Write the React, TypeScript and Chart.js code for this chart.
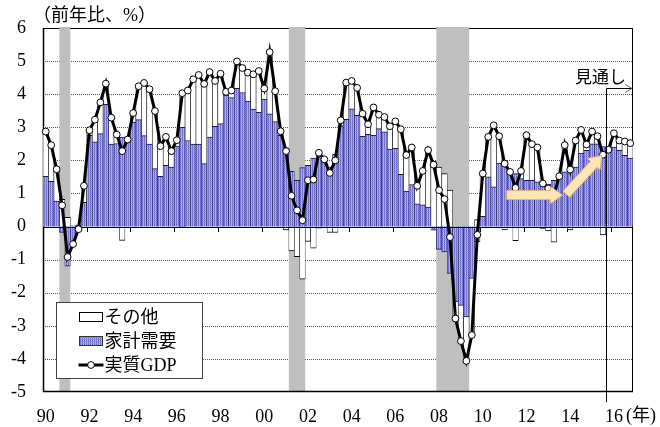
import React, { useEffect, useRef } from 'react';
import { Chart, registerables } from 'chart.js';

Chart.register(...registerables);

// ---- data ----
const firstYear = 1990;
const lastYear = 2016;
const categories: string[] = [];
for (let y = firstYear; y <= lastYear; y++) {
  for (let q = 1; q <= 4; q++) categories.push(`${y}Q${q}`);
}

const xTickLabels = ['90', '92', '94', '96', '98', '00', '02', '04', '06', '08', '10', '12', '14', '16'];
const yTickLabels = ['-5', '-4', '-3', '-2', '-1', '0', '1', '2', '3', '4', '5', '6'];

// 家計需要 (household demand contribution)
const household = [
  1.52, 1.37, 0.77, -0.18, -1.20, -0.55, 0.05, 0.73,
  2.76, 2.56, 2.81, 3.69, 2.49, 2.51, 2.70, 2.63,
  3.16, 3.23, 2.75, 2.49, 1.75, 1.52, 1.85, 1.80,
  2.43, 3.00, 2.60, 2.49, 2.49, 1.90, 2.70, 3.03,
  3.11, 3.97, 3.90, 4.18, 4.05, 3.79, 3.55, 3.45,
  3.85, 3.41, 3.17, 2.76, 2.38, 1.67, 1.40, 1.78,
  1.85, 2.07, 2.28, 2.03, 1.80, 2.18, 3.05, 3.24,
  3.56, 3.36, 2.73, 2.79, 2.76, 2.96, 2.86, 2.34,
  2.36, 1.58, 1.07, 1.27, 0.69, 0.66, 0.59, -0.11,
  -0.69, -0.77, -1.42, -2.28, -2.38, -2.73, -1.57, -0.46,
  0.31, 1.50, 1.20, 1.92, 2.00, 1.65, 1.60, 1.45,
  1.40, 1.40, 1.35, 1.36, 1.28, 1.40, 1.52, 1.65,
  1.82, 1.80, 2.22, 2.30, 2.50, 2.50, 2.42, 2.32,
  2.40, 2.30, 2.15, 2.07,
];

// その他 (other contribution)
const other = [
  1.35, 1.09, 0.96, 0.82, 0.28, 0.02, -0.13, 0.50,
  0.15, 0.67, 0.94, 0.63, 0.80, 0.27, -0.42, 0.00,
  0.27, 1.01, 1.59, 1.66, 1.74, 0.91, 0.86, 0.48,
  0.18, 1.03, 1.51, 1.96, 2.09, 2.41, 1.97, 1.37,
  1.51, 0.10, 0.21, 0.81, 0.74, 0.86, 1.05, 1.25,
  0.32, 1.86, 0.92, 0.12, -0.10, -0.74, -0.91, -1.59,
  -0.45, -0.65, -0.05, 0.00, -0.18, -0.18, 0.16, 1.11,
  0.84, 0.83, 0.68, 0.30, 0.84, 0.42, 0.45, 0.69,
  0.82, 1.36, 1.09, 1.12, 0.54, 1.02, 1.72, 1.98,
  1.80, 1.60, 1.10, -0.50, -1.08, -1.33, -1.71, 0.21,
  1.29, 1.21, 1.86, 0.81, -0.10, 0.00, -0.43, 0.23,
  1.36, 1.09, 1.04, -0.06, -0.13, -0.47, 0.00, 0.81,
  -0.10, 0.80, 0.70, 0.18, 0.37, 0.23, -0.25, 0.00,
  0.42, 0.30, 0.42, 0.45,
];

// 実質GDP (real GDP, y/y %)
const realGdp = [
  2.87, 2.46, 1.73, 0.64, -0.92, -0.53, -0.08, 1.23,
  2.91, 3.23, 3.75, 4.32, 3.29, 2.78, 2.28, 2.63,
  3.43, 4.24, 4.34, 4.15, 3.49, 2.43, 2.71, 2.28,
  2.61, 4.03, 4.11, 4.45, 4.58, 4.31, 4.67, 4.40,
  4.62, 4.07, 4.11, 4.99, 4.79, 4.65, 4.60, 4.70,
  4.17, 5.27, 4.09, 2.88, 2.28, 0.93, 0.49, 0.19,
  1.40, 1.42, 2.23, 2.03, 1.62, 2.00, 3.21, 4.35,
  4.40, 4.19, 3.41, 3.09, 3.60, 3.38, 3.31, 3.03,
  3.18, 2.94, 2.16, 2.39, 1.23, 1.68, 2.31, 1.87,
  1.10, 0.83, -0.32, -2.78, -3.46, -4.06, -3.28, -0.25,
  1.60, 2.71, 3.06, 2.73, 1.90, 1.65, 1.17, 1.68,
  2.76, 2.49, 2.39, 1.30, 1.15, 0.93, 1.52, 2.46,
  1.72, 2.60, 2.92, 2.48, 2.87, 2.73, 2.17, 2.32,
  2.82, 2.60, 2.57, 2.52,
];

// recession periods (shaded)
const recessions: [string, string][] = [
  ['1990Q4', '1991Q1'],
  ['2001Q2', '2001Q4'],
  ['2008Q1', '2009Q2'],
];
const forecastStart = '2015Q4';

// trend arrows: [categoryIndex, value]
const trendArrows = [
  { from: [84.4, 0.95], to: [94.6, 0.95] },
  { from: [95.3, 0.98], to: [101.8, 2.15] },
];

const titleText = '（前年比、%）';
const unitText = '(年)';
const forecastText = '見通し';
const legendLabels = ['その他', '家計需要', '実質GDP'];

const SERIF = '"Liberation Serif", "Noto Sans CJK JP", serif';
const CJK = '"Noto Sans CJK JP", sans-serif';

function makePattern(): CanvasPattern | string {
  const c = document.createElement('canvas');
  c.width = 2;
  c.height = 2;
  const g = c.getContext('2d');
  if (!g) return '#8c8cd8';
  g.fillStyle = '#6868c4'; g.fillRect(0, 0, 1, 1);
  g.fillStyle = '#8282d2'; g.fillRect(0, 1, 1, 1);
  g.fillStyle = '#b6b6ea'; g.fillRect(1, 0, 1, 1);
  g.fillStyle = '#a0a0e0'; g.fillRect(1, 1, 1, 1);
  return g.createPattern(c, 'repeat') || '#8c8cd8';
}

function blockArrow(ctx: CanvasRenderingContext2D, x0: number, y0: number, x1: number, y1: number,
  shaftHalf: number, headHalf: number, headLen: number) {
  const dx = x1 - x0, dy = y1 - y0;
  const len = Math.hypot(dx, dy);
  const ux = dx / len, uy = dy / len;
  const nx = -uy, ny = ux;
  const bx = x1 - ux * headLen, by = y1 - uy * headLen;
  ctx.beginPath();
  ctx.moveTo(x0 + nx * shaftHalf, y0 + ny * shaftHalf);
  ctx.lineTo(bx + nx * shaftHalf, by + ny * shaftHalf);
  ctx.lineTo(bx + nx * headHalf, by + ny * headHalf);
  ctx.lineTo(x1, y1);
  ctx.lineTo(bx - nx * headHalf, by - ny * headHalf);
  ctx.lineTo(bx - nx * shaftHalf, by - ny * shaftHalf);
  ctx.lineTo(x0 - nx * shaftHalf, y0 - ny * shaftHalf);
  ctx.closePath();
  ctx.fill();
  ctx.stroke();
}

export default function App() {
  const ref = useRef<HTMLCanvasElement | null>(null);

  useEffect(() => {
    if (!ref.current) return;
    const pattern = makePattern();

    const decor = {
      id: 'decor',
      beforeDatasetsDraw(chart: any) {
        const { ctx, chartArea: a, scales } = chart;
        const x = scales.x, y = scales.y;
        const half = (x.getPixelForValue(1) - x.getPixelForValue(0)) / 2;
        ctx.save();
        // dotted grid
        ctx.strokeStyle = '#5a5a5a';
        ctx.lineWidth = 1;
        ctx.setLineDash([1, 1]);
        for (let v = -4; v <= 5; v++) {
          if (v === 0) continue;
          const py = Math.round(y.getPixelForValue(v)) + 0.5;
          ctx.beginPath();
          ctx.moveTo(a.left, py);
          ctx.lineTo(a.right, py);
          ctx.stroke();
        }
        ctx.setLineDash([]);
        // top and right frame
        ctx.strokeStyle = '#000';
        ctx.beginPath();
        ctx.moveTo(a.left, Math.round(a.top) + 0.5);
        ctx.lineTo(a.right, Math.round(a.top) + 0.5);
        ctx.moveTo(Math.round(a.right) - 0.5, a.top);
        ctx.lineTo(Math.round(a.right) - 0.5, a.bottom);
        ctx.stroke();
        // recession bands
        ctx.fillStyle = '#bfbfbf';
        for (const [s, e] of recessions) {
          const i0 = categories.indexOf(s);
          const i1 = categories.indexOf(e);
          const x0 = x.getPixelForValue(i0) - half;
          const x1 = x.getPixelForValue(i1) + half;
          ctx.fillRect(x0, a.top - 1, x1 - x0, a.bottom - a.top + 1);
        }
        // bottom and left axis
        ctx.strokeStyle = '#000';
        ctx.lineWidth = 1.5;
        ctx.beginPath();
        ctx.moveTo(a.left, a.bottom - 0.5);
        ctx.lineTo(a.right, a.bottom - 0.5);
        ctx.stroke();
        ctx.beginPath();
        ctx.moveTo(a.left + 0.5, a.top);
        ctx.lineTo(a.left + 0.5, a.bottom);
        ctx.stroke();
        // small ticks under zero line
        const zy = Math.round(y.getPixelForValue(0));
        ctx.lineWidth = 1;
        ctx.beginPath();
        for (let i = 8; i < categories.length; i += 8) {
          const px = Math.round(x.getPixelForValue(i) - half) + 0.5;
          ctx.moveTo(px, zy);
          ctx.lineTo(px, zy + 5);
        }
        ctx.stroke();
        ctx.restore();
      },
      afterDatasetDraw(chart: any, args: any) {
        if (args.index !== 1) return;
        const { ctx, chartArea: a, scales } = chart;
        const zy = Math.round(scales.y.getPixelForValue(0)) + 0.5;
        ctx.save();
        ctx.strokeStyle = '#000';
        ctx.lineWidth = 1;
        ctx.beginPath();
        ctx.moveTo(a.left, zy);
        ctx.lineTo(a.right, zy);
        ctx.stroke();
        ctx.restore();
      },
      afterDatasetsDraw(chart: any) {
        const { ctx, chartArea: a, scales } = chart;
        const x = scales.x, y = scales.y;
        const half = (x.getPixelForValue(1) - x.getPixelForValue(0)) / 2;
        ctx.save();
        // trend arrows
        ctx.fillStyle = '#fde6b6';
        ctx.strokeStyle = '#d8b87a';
        ctx.lineWidth = 1;
        for (const ar of trendArrows) {
          blockArrow(ctx,
            x.getPixelForValue(ar.from[0]), y.getPixelForValue(ar.from[1]),
            x.getPixelForValue(ar.to[0]), y.getPixelForValue(ar.to[1]),
            4.5, 8.5, 12);
        }
        // forecast marker
        const fi = categories.indexOf(forecastStart);
        const fx = Math.round(x.getPixelForValue(fi) - half) + 0.5;
        const fy = Math.round(y.getPixelForValue(4.18)) + 0.5;
        ctx.strokeStyle = '#000';
        ctx.lineWidth = 1;
        ctx.beginPath();
        ctx.moveTo(fx, fy);
        ctx.lineTo(fx, a.bottom + 10);
        ctx.moveTo(fx, fy);
        ctx.lineTo(a.right - 1, fy);
        ctx.stroke();
        ctx.strokeStyle = '#666';
        ctx.beginPath();
        ctx.moveTo(a.right - 8, fy - 4);
        ctx.lineTo(a.right - 1, fy);
        ctx.lineTo(a.right - 8, fy + 4);
        ctx.stroke();
        ctx.fillStyle = '#000';
        ctx.font = `17px ${CJK}`;
        ctx.textAlign = 'right';
        ctx.textBaseline = 'middle';
        ctx.fillText(forecastText, a.right - 7, fy - 12);
        ctx.restore();
      },
      afterDraw(chart: any) {
        const { ctx, chartArea: a } = chart;
        ctx.save();
        ctx.fillStyle = '#000';
        ctx.textBaseline = 'middle';
        ctx.textAlign = 'left';
        ctx.font = `18px ${SERIF}`;
        ctx.fillText(titleText, a.left - 10, 16);
        ctx.font = `18px ${SERIF}`;
        ctx.fillText(unitText, a.right - 7, 416);

        // legend
        const lx = a.left + 13, ly = a.bottom - 90, lw = 146, lh = 76;
        ctx.fillStyle = '#fff';
        ctx.fillRect(lx + 0.5, ly + 0.5, lw, lh);
        ctx.strokeStyle = '#404040';
        ctx.lineWidth = 1;
        ctx.strokeRect(lx + 0.5, ly + 0.5, lw, lh);
        const ix = lx + 23.5;
        const rows = [ly + 15, ly + 39, ly + 63];
        ctx.strokeStyle = '#000';
        ctx.fillStyle = '#fff';
        ctx.fillRect(ix, rows[0] - 4.5, 23, 9);
        ctx.strokeRect(ix, rows[0] - 4.5, 23, 9);
        ctx.fillStyle = pattern as any;
        ctx.fillRect(ix, rows[1] - 4.5, 23, 9);
        ctx.strokeStyle = '#333';
        ctx.strokeRect(ix, rows[1] - 4.5, 23, 9);
        ctx.strokeStyle = '#000';
        ctx.lineWidth = 3;
        ctx.beginPath();
        ctx.moveTo(ix - 1, rows[2]);
        ctx.lineTo(ix + 24, rows[2]);
        ctx.stroke();
        ctx.lineWidth = 1;
        ctx.fillStyle = '#fff';
        ctx.beginPath();
        ctx.arc(ix + 11.5, rows[2], 3.4, 0, Math.PI * 2);
        ctx.fill();
        ctx.stroke();
        ctx.fillStyle = '#000';
        ctx.font = `18px ${SERIF}`;
        legendLabels.forEach((t, k) => ctx.fillText(t, ix + 25, rows[k] + 1));
        ctx.restore();
      },
    };

    const chart = new Chart(ref.current, {
      type: 'bar',
      data: {
        labels: categories,
        datasets: [
          {
            type: 'line' as const,
            label: legendLabels[2],
            data: realGdp,
            stack: 'gdp',
            borderColor: '#000',
            borderWidth: 3,
            tension: 0,
            pointRadius: 3.4,
            pointBorderWidth: 1,
            pointBackgroundColor: '#fff',
            pointBorderColor: '#000',
          },
          {
            label: legendLabels[1],
            data: household,
            stack: 'bars',
            backgroundColor: pattern as any,
            borderColor: '#1a1a40',
            borderWidth: { left: 0.6, right: 0.6, top: 1, bottom: 1 },
            barPercentage: 1,
            categoryPercentage: 1,
          },
          {
            label: legendLabels[0],
            data: other,
            stack: 'bars',
            backgroundColor: '#fff',
            borderColor: '#000',
            borderWidth: { left: 0.6, right: 0.6, top: 1, bottom: 1 },
            barPercentage: 1,
            categoryPercentage: 1,
          },
        ] as any,
      },
      options: {
        responsive: false,
        animation: false,
        devicePixelRatio: 1,
        layout: { padding: { top: 28, right: 27, left: 0, bottom: 0 } },
        plugins: { legend: { display: false }, tooltip: { enabled: false } },
        scales: {
          x: {
            stacked: true,
            offset: true,
            grid: { display: false, drawTicks: false },
            border: { display: false },
            ticks: {
              autoSkip: false,
              maxRotation: 0,
              minRotation: 0,
              padding: 14,
              color: '#000',
              font: { family: SERIF, size: 18 },
              callback: (_v: any, i: number) => (i % 8 === 0 ? xTickLabels[i / 8] : ''),
            },
            afterFit: (s: any) => { s.height = 35; },
          },
          y: {
            stacked: true,
            min: -5,
            max: 6,
            grid: { display: false, drawTicks: false },
            border: { display: false },
            ticks: {
              stepSize: 1,
              padding: 17,
              color: '#000',
              font: { family: SERIF, size: 18 },
              callback: (v: any) => yTickLabels[Math.round(Number(v)) + 5],
            },
            afterFit: (s: any) => { s.width = 43; },
          },
        },
      } as any,
      plugins: [decor],
    });
    return () => chart.destroy();
  }, []);

  return (
    <div style={{ position: 'absolute', left: 0, top: 0, width: 660, height: 427, background: '#fff' }}>
      <canvas ref={ref} width={660} height={427} />
    </div>
  );
}
